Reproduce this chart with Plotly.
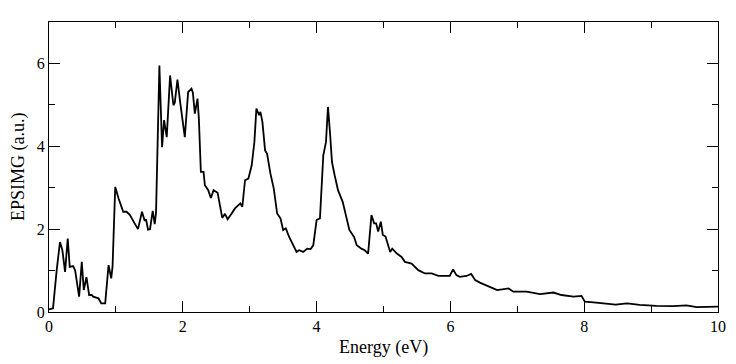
import plotly.graph_objects as go

energy_ev = [
    0.00, 0.06, 0.115, 0.164, 0.20, 0.24, 0.28, 0.31, 0.36, 0.39, 0.45, 0.49, 0.52, 0.56, 0.60,
    0.64, 0.66, 0.74, 0.78, 0.84, 0.89, 0.93, 0.95, 0.99, 1.04, 1.11, 1.16, 1.21, 1.28, 1.33,
    1.39, 1.43, 1.45, 1.48, 1.51, 1.55, 1.58, 1.60, 1.65, 1.67, 1.69, 1.72, 1.76, 1.81, 1.86,
    1.88, 1.92, 1.96, 1.99, 2.03, 2.08, 2.13, 2.15, 2.18, 2.22, 2.24, 2.27, 2.31, 2.33, 2.38,
    2.42, 2.46, 2.52, 2.56, 2.59, 2.63, 2.67, 2.73, 2.78, 2.86, 2.89, 2.93, 2.98, 3.03, 3.07,
    3.10, 3.14, 3.16, 3.19, 3.23, 3.26, 3.31, 3.36, 3.41, 3.46, 3.50, 3.54, 3.59, 3.64, 3.70,
    3.74, 3.80, 3.86, 3.91, 3.95, 4.00, 4.05, 4.10, 4.14, 4.17, 4.20, 4.23, 4.27, 4.32, 4.39,
    4.44, 4.49, 4.56, 4.60, 4.67, 4.72, 4.77, 4.82, 4.86, 4.89, 4.92, 4.96, 4.99, 5.03, 5.10,
    5.13, 5.20, 5.27, 5.32, 5.42, 5.52, 5.62, 5.72, 5.82, 5.92, 5.99, 6.04, 6.09, 6.14, 6.24,
    6.31, 6.37, 6.44, 6.54, 6.64, 6.70, 6.77, 6.87, 6.94, 7.04, 7.14, 7.34, 7.54, 7.66, 7.84,
    7.96, 8.01, 8.14, 8.24, 8.47, 8.64, 8.83, 9.08, 9.33, 9.53, 9.68, 10.0,
]
epsimg = [
    0.06, 0.09, 1.01, 1.69, 1.49, 0.97, 1.77, 1.09, 1.11, 1.01, 0.37, 1.21, 0.53, 0.84, 0.41,
    0.41, 0.37, 0.33, 0.21, 0.21, 1.13, 0.81, 1.10, 3.02, 2.74, 2.42, 2.42, 2.34, 2.14, 2.00,
    2.42, 2.20, 2.24, 1.99, 2.00, 2.44, 2.12, 2.40, 5.95, 4.90, 3.98, 4.63, 4.22, 5.71, 4.99,
    5.05, 5.61, 5.07, 4.71, 4.22, 5.31, 5.39, 5.30, 4.79, 5.15, 4.67, 3.38, 3.38, 3.06, 2.94,
    2.75, 2.94, 2.88, 2.58, 2.27, 2.37, 2.24, 2.38, 2.50, 2.62, 2.54, 3.18, 3.22, 3.54, 4.10,
    4.91, 4.75, 4.83, 4.59, 3.90, 3.82, 3.34, 2.98, 2.38, 2.26, 1.98, 2.02, 1.81, 1.66, 1.45,
    1.49, 1.45, 1.53, 1.52, 1.61, 2.22, 2.26, 3.78, 4.10, 4.95, 4.34, 3.62, 3.30, 2.94, 2.66,
    2.34, 1.98, 1.81, 1.61, 1.53, 1.49, 1.41, 2.34, 2.14, 2.14, 1.94, 2.18, 1.86, 1.82, 1.45,
    1.53, 1.41, 1.33, 1.21, 1.17, 1.01, 0.93, 0.93, 0.87, 0.87, 0.87, 1.03, 0.89, 0.85, 0.87,
    0.92, 0.77, 0.71, 0.63, 0.57, 0.53, 0.55, 0.57, 0.49, 0.49, 0.49, 0.43, 0.47, 0.41, 0.37,
    0.39, 0.25, 0.23, 0.21, 0.18, 0.21, 0.17, 0.15, 0.14, 0.16, 0.12, 0.13,
]

x_tickvals = [0, 2, 4, 6, 8, 10]
y_tickvals = [0, 2, 4, 6]
x_title = "Energy (eV)"
y_title = "EPSIMG (a.u.)"

serif = "Liberation Serif"

fig = go.Figure()
fig.add_trace(go.Scatter(
    x=energy_ev, y=epsimg, mode="lines",
    line=dict(color="black", width=1.8),
    showlegend=False, hoverinfo="skip",
))

axis_common = dict(
    showgrid=False, zeroline=False, automargin=False,
    showline=True, linecolor="black", linewidth=1.2, mirror="allticks",
    ticks="inside", ticklen=11, tickwidth=1.2, tickcolor="black",
    tickfont=dict(family=serif, size=16, color="black"),
    minor=dict(ticks="inside", ticklen=6, tickwidth=1.2, tickcolor="black", showgrid=False),
)

fig.update_xaxes(
    range=[0, 10], tickvals=x_tickvals, ticktext=[str(v) for v in x_tickvals],
    **axis_common,
)
fig.update_yaxes(
    range=[0, 7], tickvals=y_tickvals, ticktext=[str(v) for v in y_tickvals],
    **axis_common,
)
fig.update_xaxes(minor_dtick=1, minor_tick0=0)
fig.update_yaxes(minor_dtick=1, minor_tick0=0)

fig.add_annotation(
    text=x_title, xref="paper", yref="paper", x=0.5, y=0,
    xanchor="center", yanchor="middle", yshift=-35, showarrow=False,
    font=dict(family=serif, size=18, color="black"),
)
fig.add_annotation(
    text=y_title, xref="paper", yref="paper", x=0, y=0.5, textangle=-90,
    xanchor="center", yanchor="middle", xshift=-31, showarrow=False,
    font=dict(family=serif, size=18, color="black"),
)

# page body has an 8px margin: figure is offset by (8, 8) in the window
fig.update_layout(
    width=728, height=356,
    margin=dict(l=41, r=18, t=14, b=52),
    paper_bgcolor="white", plot_bgcolor="white",
    font=dict(family=serif, color="black"),
)

fig.write_html("out.html")
